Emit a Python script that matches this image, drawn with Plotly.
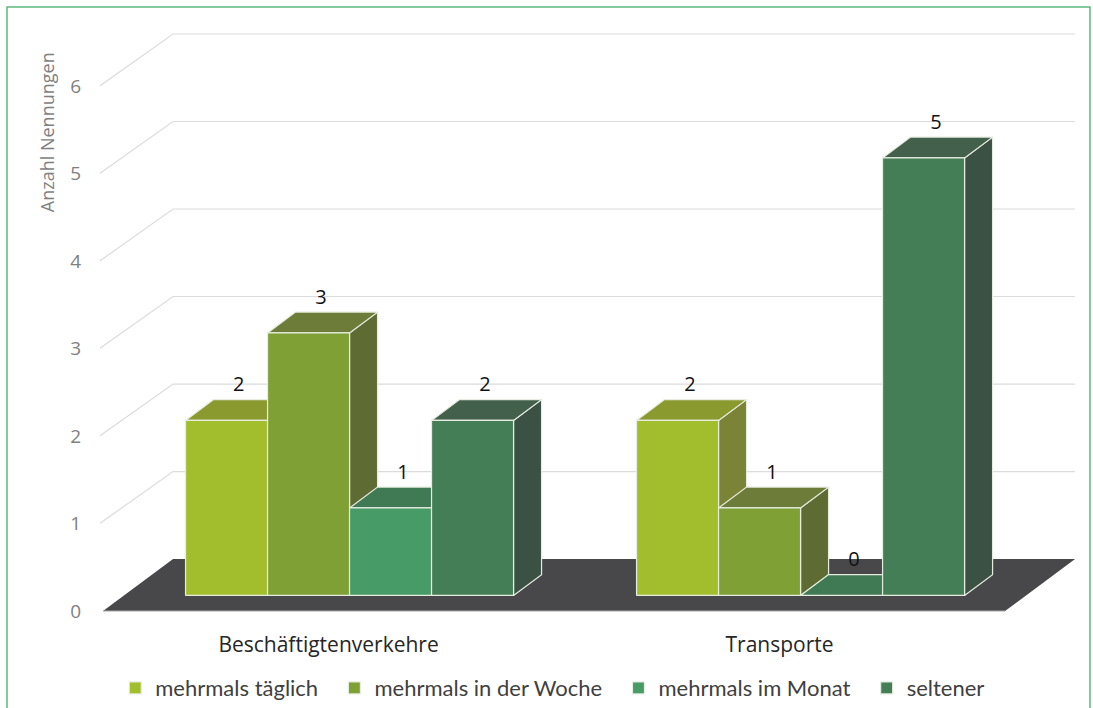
import plotly.graph_objects as go

# ---------------- data ----------------
categories = ["Beschäftigtenverkehre", "Transporte"]
series_names = ["mehrmals täglich", "mehrmals in der Woche", "mehrmals im Monat", "seltener"]
values_taeglich = [2, 2]
values_woche = [3, 1]
values_monat = [1, 0]
values_seltener = [2, 5]
y_ticks = [0, 1, 2, 3, 4, 5, 6]
y_title = "Anzahl Nennungen"

series_values = [values_taeglich, values_woche, values_monat, values_seltener]

# ---------------- styles ----------------
front_colors = ["#A3BE2C", "#7EA034", "#469B66", "#437E56"]
top_colors = ["#8A9A2F", "#6E7C39", "#407A55", "#43604D"]
side_colors = ["#7B8337", "#5E6C34", "#3E6A4C", "#3A5144"]
edge_color = "#E6ECDF"
floor_color = "#48484A"
grid_color = "#DCDCDC"

# ---------------- 3D geometry (oblique projection, data units) ----------------
n_series = len(series_names)
GAP = 1.5                         # gap between groups, in bar widths
GROUP_STEP = n_series + GAP
FLOOR_PAD = GAP / 2
DEPTH_DX, DEPTH_DY = 0.854, 0.594  # full floor depth projected
F_FRONT, F_BAR = 0.3, 0.4          # bar position / thickness as depth fractions
fdx, fdy = F_FRONT * DEPTH_DX, F_FRONT * DEPTH_DY
bdx, bdy = F_BAR * DEPTH_DX, F_BAR * DEPTH_DY

group_centers = [g * GROUP_STEP for g in range(len(categories))]
floor_left = group_centers[0] - n_series / 2 - FLOOR_PAD
floor_right = group_centers[-1] + n_series / 2 + FLOOR_PAD

fig = go.Figure()

# gridlines (back wall + left wall)
for v in y_ticks[1:]:
    fig.add_trace(go.Scatter(
        x=[floor_left - 0.04, floor_left + DEPTH_DX, floor_right + DEPTH_DX],
        y=[v, v + DEPTH_DY, v + DEPTH_DY],
        mode="lines", line=dict(color=grid_color, width=1.2),
        hoverinfo="skip", showlegend=False))

# floor
fig.add_trace(go.Scatter(
    x=[floor_left, floor_right, floor_right + DEPTH_DX, floor_left + DEPTH_DX, floor_left],
    y=[0, 0, DEPTH_DY, DEPTH_DY, 0],
    mode="lines", fill="toself", fillcolor=floor_color,
    line=dict(color=floor_color, width=0), hoverinfo="skip", showlegend=False))
fig.add_trace(go.Scatter(
    x=[floor_left, floor_right], y=[0, 0], mode="lines",
    line=dict(color="#A8A8A8", width=1), hoverinfo="skip", showlegend=False))

# plain bars (legend + base front faces)
for s in range(n_series):
    xs = [c - n_series / 2 + s + 0.5 + fdx for c in group_centers]
    label = series_names[s] + ("\u00a0\u00a0" if s < n_series - 1 else "")
    fig.add_trace(go.Bar(
        x=xs, y=series_values[s], base=[fdy] * len(xs), width=1.0,
        name=label, marker=dict(color=front_colors[s], line=dict(color=edge_color, width=1.2)),
        hoverinfo="skip"))

# 3D faces, painter's order
for g, c in enumerate(group_centers):
    for s in range(n_series):
        v = series_values[s][g]
        x0 = c - n_series / 2 + s + fdx
        x1 = x0 + 1.0
        y0 = fdy
        y1 = y0 + v
        faces = [
            ([x1, x1 + bdx, x1 + bdx, x1, x1], [y0, y0 + bdy, y1 + bdy, y1, y0], side_colors[s]),
            ([x0, x1, x1 + bdx, x0 + bdx, x0], [y1, y1, y1 + bdy, y1 + bdy, y1], top_colors[s]),
        ]
        if v > 0:
            faces.append(([x0, x1, x1, x0, x0], [y0, y0, y1, y1, y0], front_colors[s]))
        for fx, fy, col in faces:
            fig.add_trace(go.Scatter(
                x=fx, y=fy, mode="lines", fill="toself", fillcolor=col,
                line=dict(color=edge_color, width=1.2),
                hoverinfo="skip", showlegend=False))

# data labels
for s in range(n_series):
    lx, ly, lt = [], [], []
    for g, c in enumerate(group_centers):
        v = series_values[s][g]
        lx.append(c - n_series / 2 + s + 0.5 + fdx + 0.15)
        ly.append(v + fdy + bdy + 0.04)
        lt.append(str(v))
    fig.add_trace(go.Scatter(
        x=lx, y=ly, text=lt, mode="text", textposition="top center",
        textfont=dict(family="Open Sans", size=20, color="#111111"),
        hoverinfo="skip", showlegend=False, cliponaxis=False))

xa = floor_left - 0.037
xb = xa + 11.951
fig.update_layout(
    width=1093, height=708,
    margin=dict(l=100, r=13, t=25, b=78, autoexpand=False),
    paper_bgcolor="white", plot_bgcolor="white",
    barmode="overlay",
    showlegend=True,
    legend=dict(orientation="h", x=0.462, xanchor="center", y=-0.096, yanchor="middle",
                font=dict(family="Lato", size=22, color="#404040"),
                traceorder="normal"),
    xaxis=dict(range=[xa, xb], showgrid=False, zeroline=False, showline=False,
               tickvals=group_centers, ticktext=categories, ticks="",
               tickfont=dict(family="Open Sans", size=21, color="#262626")),
    yaxis=dict(range=[-0.217, 6.697], showgrid=False, zeroline=False, showline=False,
               tickvals=y_ticks, ticks="outside", ticklen=14, tickcolor="rgba(0,0,0,0)",
               tickfont=dict(family="Open Sans", size=19, color="#7F7F7F")),
    annotations=[dict(text=y_title, xref="paper", yref="paper", x=-0.054, y=0.823,
                      xanchor="center", yanchor="middle",
                      textangle=-90, showarrow=False,
                      font=dict(family="Open Sans", size=18, color="#7F7F7F"))],
    shapes=[dict(type="rect", xref="paper", yref="paper", x0=-0.0949, x1=1.0102,
                 y0=-0.3, y1=1.0298, line=dict(color="#5CB97D", width=1.5),
                 fillcolor="rgba(0,0,0,0)", layer="below")],
)

fig.write_html("out.html", config={"displayModeBar": False})

# remove the default page margin so the figure sits at the window origin
with open("out.html", "r", encoding="utf-8") as fh:
    html = fh.read()
html = html.replace("<head>", "<head><style>html,body{margin:0;padding:0;overflow:hidden;}</style>", 1)
with open("out.html", "w", encoding="utf-8") as fh:
    fh.write(html)
